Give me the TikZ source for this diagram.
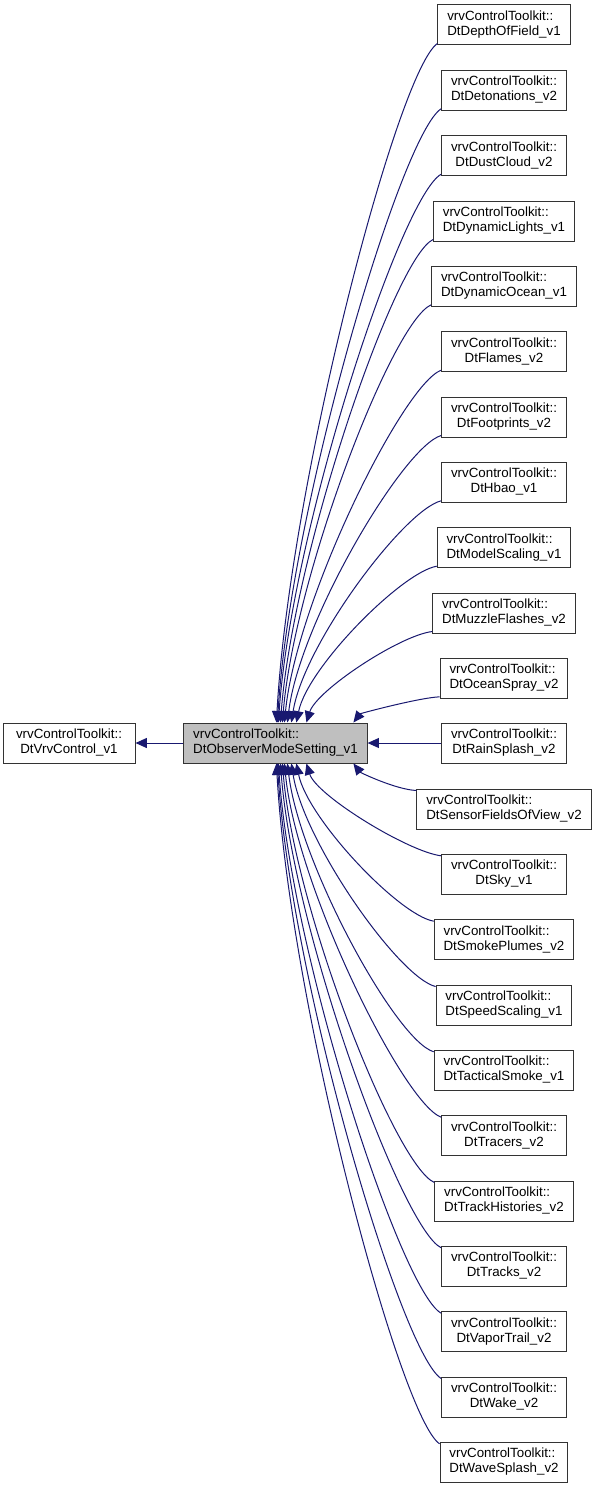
\documentclass[tikz,border=0pt]{standalone}
\usepackage{fontspec}
\setmainfont{Liberation Sans}
\usetikzlibrary{arrows.meta,calc}

\definecolor{edgeblue}{HTML}{191970}
\definecolor{boxgray}{HTML}{BFBFBF}
\newcommand{\vrvlabel}[1]{\begin{tabular}{@{}l@{}}vrvControlToolkit::\\\multicolumn{1}{@{}c@{}}{#1}\end{tabular}}

\begin{document}
\begin{tikzpicture}[x=0.75pt, y=-0.75pt,
    cls/.style={draw=black!80, line width=0.75pt, fill=white, minimum height=30pt,
      inner xsep=7pt, inner ysep=0pt, font=\fontsize{10pt}{11.25pt}\selectfont},
    inh/.style={draw=edgeblue, line width=0.75pt, -{Triangle[length=8.5pt, width=7.5pt]}}]
    \path[use as bounding box, fill=white] (0, 0) rectangle (597, 1488);

    \node[cls, minimum width=99pt] (base) at (69, 743) {\vrvlabel{DtVrvControl\_v1}};
    \node[cls, fill=boxgray] (obs) at (275.5, 743) {\vrvlabel{DtObserverModeSetting\_v1}};

    \node[cls] (r0) at (504, 25) {\vrvlabel{DtDepthOfField\_v1}};
    \node[cls] (r1) at (504, 90.3) {\vrvlabel{DtDetonations\_v2}};
    \node[cls] (r2) at (504, 155.7) {\vrvlabel{DtDustCloud\_v2}};
    \node[cls] (r3) at (504, 221) {\vrvlabel{DtDynamicLights\_v1}};
    \node[cls] (r4) at (504, 286.3) {\vrvlabel{DtDynamicOcean\_v1}};
    \node[cls] (r5) at (504, 351.7) {\vrvlabel{DtFlames\_v2}};
    \node[cls] (r6) at (504, 417) {\vrvlabel{DtFootprints\_v2}};
    \node[cls] (r7) at (504, 482.3) {\vrvlabel{DtHbao\_v1}};
    \node[cls] (r8) at (504, 547.7) {\vrvlabel{DtModelScaling\_v1}};
    \node[cls] (r9) at (504, 613) {\vrvlabel{DtMuzzleFlashes\_v2}};
    \node[cls] (r10) at (504, 678.3) {\vrvlabel{DtOceanSpray\_v2}};
    \node[cls] (r11) at (504, 743) {\vrvlabel{DtRainSplash\_v2}};
    \node[cls] (r12) at (504, 809) {\vrvlabel{DtSensorFieldsOfView\_v2}};
    \node[cls] (r13) at (504, 874.3) {\vrvlabel{DtSky\_v1}};
    \node[cls] (r14) at (504, 939.7) {\vrvlabel{DtSmokePlumes\_v2}};
    \node[cls] (r15) at (504, 1005) {\vrvlabel{DtSpeedScaling\_v1}};
    \node[cls] (r16) at (504, 1070.3) {\vrvlabel{DtTacticalSmoke\_v1}};
    \node[cls] (r17) at (504, 1135.7) {\vrvlabel{DtTracers\_v2}};
    \node[cls] (r18) at (504, 1201) {\vrvlabel{DtTrackHistories\_v2}};
    \node[cls] (r19) at (504, 1266.3) {\vrvlabel{DtTracks\_v2}};
    \node[cls] (r20) at (504, 1331.7) {\vrvlabel{DtVaporTrail\_v2}};
    \node[cls] (r21) at (504, 1397) {\vrvlabel{DtWake\_v2}};
    \node[cls] (r22) at (504, 1462.3) {\vrvlabel{DtWaveSplash\_v2}};

    \draw[inh] (obs.west) -- (base.east);

    % upper classes come in on the top side
    \draw[inh] ([yshift=1.5pt]r0.south west) .. controls +(-40, 27) and +(13, -238) .. ($(obs.north west)+(93, 0)$);
    \draw[inh] ([yshift=1.5pt]r1.south west) .. controls +(-40, 25) and +(13, -215) .. ($(obs.north west)+(94, 0)$);
    \draw[inh] ([yshift=1.5pt]r2.south west) .. controls +(-40, 22) and +(13, -192) .. ($(obs.north west)+(95, 0)$);
    \draw[inh] ([yshift=1.5pt]r3.south west) .. controls +(-39, 19) and +(13, -169) .. ($(obs.north west)+(97, 0)$);
    \draw[inh] ([yshift=1.5pt]r4.south west) .. controls +(-39, 17) and +(12, -146) .. ($(obs.north west)+(99, 0)$);
    \draw[inh] ([yshift=1.5pt]r5.south west) .. controls +(-38, 14) and +(12, -123) .. ($(obs.north west)+(101, 0)$);
    \draw[inh] ([yshift=1.5pt]r6.south west) .. controls +(-38, 11) and +(12, -100) .. ($(obs.north west)+(104, 0)$);
    \draw[inh] ([yshift=1.5pt]r7.south west) .. controls +(-37, 9) and +(12, -78) .. ($(obs.north west)+(108, 0)$);
    \draw[inh] ([yshift=1.5pt]r8.south west) .. controls +(-35, 6) and +(11, -55) .. ($(obs.north west)+(113, 0)$);
    \draw[inh] ([yshift=1.5pt]r9.south west) .. controls +(-33, 4) and +(10, -32) .. ($(obs.north west)+(123, 0)$);
    \draw[inh] ([yshift=1.5pt]r10.south west) .. controls +(-21, 1) and +(7, -9) .. ($(obs.north west)+(170, 0)$);

    \draw[inh] (r11.west) -- (obs.east);

    % lower classes come in on the bottom side
    \draw[inh] ([yshift=-1.5pt]r12.north west) .. controls +(-21, -1) and +(7, 9) .. ($(obs.south west)+(170, 0)$);
    \draw[inh] ([yshift=-1.5pt]r13.north west) .. controls +(-33, -4) and +(10, 32) .. ($(obs.south west)+(123, 0)$);
    \draw[inh] ([yshift=-1.5pt]r14.north west) .. controls +(-35, -6) and +(11, 55) .. ($(obs.south west)+(113, 0)$);
    \draw[inh] ([yshift=-1.5pt]r15.north west) .. controls +(-37, -9) and +(12, 78) .. ($(obs.south west)+(108, 0)$);
    \draw[inh] ([yshift=-1.5pt]r16.north west) .. controls +(-38, -11) and +(12, 100) .. ($(obs.south west)+(104, 0)$);
    \draw[inh] ([yshift=-1.5pt]r17.north west) .. controls +(-38, -14) and +(12, 123) .. ($(obs.south west)+(101, 0)$);
    \draw[inh] ([yshift=-1.5pt]r18.north west) .. controls +(-39, -17) and +(12, 146) .. ($(obs.south west)+(99, 0)$);
    \draw[inh] ([yshift=-1.5pt]r19.north west) .. controls +(-39, -19) and +(13, 169) .. ($(obs.south west)+(97, 0)$);
    \draw[inh] ([yshift=-1.5pt]r20.north west) .. controls +(-40, -22) and +(13, 192) .. ($(obs.south west)+(95, 0)$);
    \draw[inh] ([yshift=-1.5pt]r21.north west) .. controls +(-40, -25) and +(13, 215) .. ($(obs.south west)+(94, 0)$);
    \draw[inh] ([yshift=-1.5pt]r22.north west) .. controls +(-40, -27) and +(13, 238) .. ($(obs.south west)+(93, 0)$);
\end{tikzpicture}
\end{document}
